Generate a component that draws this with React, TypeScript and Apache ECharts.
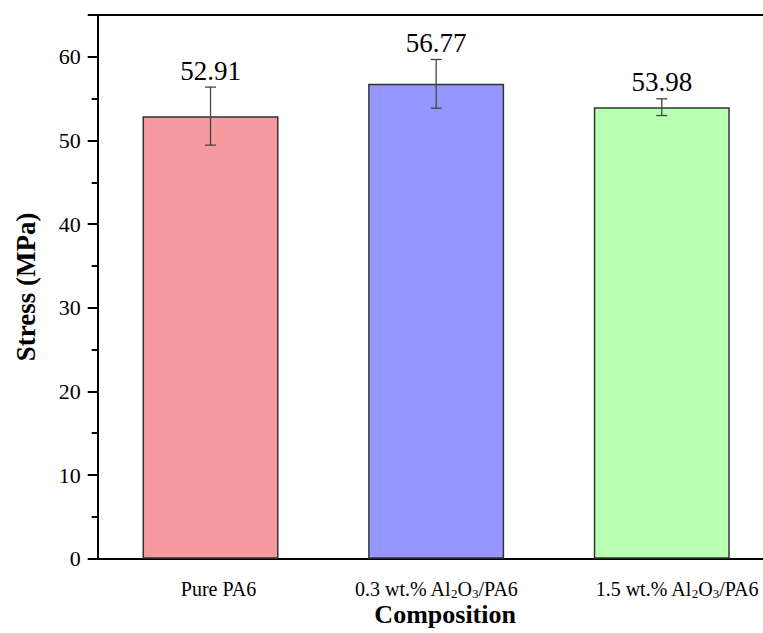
import React, { useEffect, useRef } from "react";
import * as echarts from "echarts";

const categories = ["Pure PA6", "0.3 wt.% Al2O3/PA6", "1.5 wt.% Al2O3/PA6"];
const stressValues = [52.91, 56.77, 53.98];
const stressErrors = [3.47, 2.91, 1.0];
const barColors = ["#F69A9F", "#9696FF", "#B9FFB1"];
const labelShift = [16, 0, 30];
const yTicks = [0, 10, 20, 30, 40, 50, 60];

const serif = "Liberation Serif";

export default function App() {
  const ref = useRef<HTMLDivElement>(null);
  useEffect(() => {
    if (!ref.current) return;
    const chart = echarts.init(ref.current, null, { renderer: "svg" });
    const fmt = (s: string) => s.replace("Al2O3", "Al{sub|2}O{sub|3}");
    chart.setOption({
      animation: false,
      backgroundColor: "#fff",
      textStyle: { fontFamily: serif },
      grid: {
        left: 97.7,
        top: 15,
        right: -11.6,
        bottom: 74.3,
        containLabel: false,
        outerBoundsMode: "none",
      },
      xAxis: [
        {
          type: "category",
          data: categories.map((c, i) => ({
            value: c,
            textStyle: { padding: [0, 0, 0, labelShift[i]] },
          })),
          position: "bottom",
          name: "Composition",
          nameLocation: "middle",
          nameGap: 43,
          nameMoveOverlap: false,
          nameTextStyle: {
            fontFamily: serif,
            fontSize: 26,
            fontWeight: "bold",
            color: "#000",
            padding: [0, 0, 0, 18],
          },
          axisLine: { show: true, lineStyle: { color: "#000", width: 2 } },
          axisTick: { show: false },
          axisLabel: {
            interval: 0,
            hideOverlap: false,
            margin: 20,
            fontFamily: serif,
            fontSize: 20,
            lineHeight: 20,
            color: "#000",
            formatter: (v: string) => fmt(v),
            rich: {
              sub: {
                fontFamily: serif,
                fontSize: 13,
                lineHeight: 13,
                color: "#000",
                padding: [9, 0, 0, 0],
              },
            },
          },
          splitLine: { show: false },
        },
        {
          type: "category",
          data: categories,
          position: "top",
          axisLine: { show: true, lineStyle: { color: "#000", width: 2 } },
          axisTick: { show: false },
          axisLabel: { show: false },
          splitLine: { show: false },
        },
      ],
      yAxis: {
        type: "value",
        min: 0,
        max: 65,
        interval: 10,
        name: "Stress (MPa)",
        nameLocation: "middle",
        nameGap: 58,
        nameMoveOverlap: false,
        nameTextStyle: { fontFamily: serif, fontSize: 27, fontWeight: "bold", color: "#000" },
        axisLine: { show: true, lineStyle: { color: "#000", width: 2 } },
        axisTick: { show: true, length: 10, lineStyle: { color: "#000", width: 2 } },
        minorTick: { show: true, splitNumber: 2, length: 6, lineStyle: { color: "#000", width: 2 } },
        axisLabel: {
          margin: 17,
          fontFamily: serif,
          fontSize: 22,
          color: "#000",
          formatter: (v: number) => (yTicks.includes(v) ? String(v) : ""),
        },
        splitLine: { show: false },
      },
      series: [
        {
          type: "bar",
          xAxisIndex: 0,
          barWidth: 136,
          data: stressValues.map((v, i) => ({
            value: v,
            itemStyle: { color: barColors[i], borderColor: "#333", borderWidth: 1.5 },
          })),
          z: 2,
        },
        {
          type: "custom",
          xAxisIndex: 0,
          z: 5,
          data: stressValues.map((v, i) => [i, v, stressErrors[i]]),
          encode: { x: 0, y: 1 },
          renderItem: (params: any, api: any) => {
            const i = api.value(0);
            const v = api.value(1);
            const e = api.value(2);
            const top = api.coord([i, v + e]);
            const bot = api.coord([i, v - e]);
            const hw = 5.5;
            const st = { stroke: "#444", lineWidth: 1.3 };
            return {
              type: "group",
              children: [
                { type: "line", shape: { x1: top[0], y1: top[1], x2: bot[0], y2: bot[1] }, style: st },
                { type: "line", shape: { x1: top[0] - hw, y1: top[1], x2: top[0] + hw, y2: top[1] }, style: st },
                { type: "line", shape: { x1: bot[0] - hw, y1: bot[1], x2: bot[0] + hw, y2: bot[1] }, style: st },
                {
                  type: "text",
                  x: top[0],
                  y: top[1] - 3,
                  style: {
                    text: v.toFixed(2),
                    fill: "#000",
                    fontFamily: serif,
                    fontSize: 27,
                    align: "center",
                    verticalAlign: "bottom",
                  },
                },
              ],
            };
          },
        },
      ],
    });
    return () => chart.dispose();
  }, []);
  return (
    <div
      ref={ref}
      style={{ position: "fixed", left: 0, top: 0, width: 763, height: 633, background: "#fff" }}
    />
  );
}
